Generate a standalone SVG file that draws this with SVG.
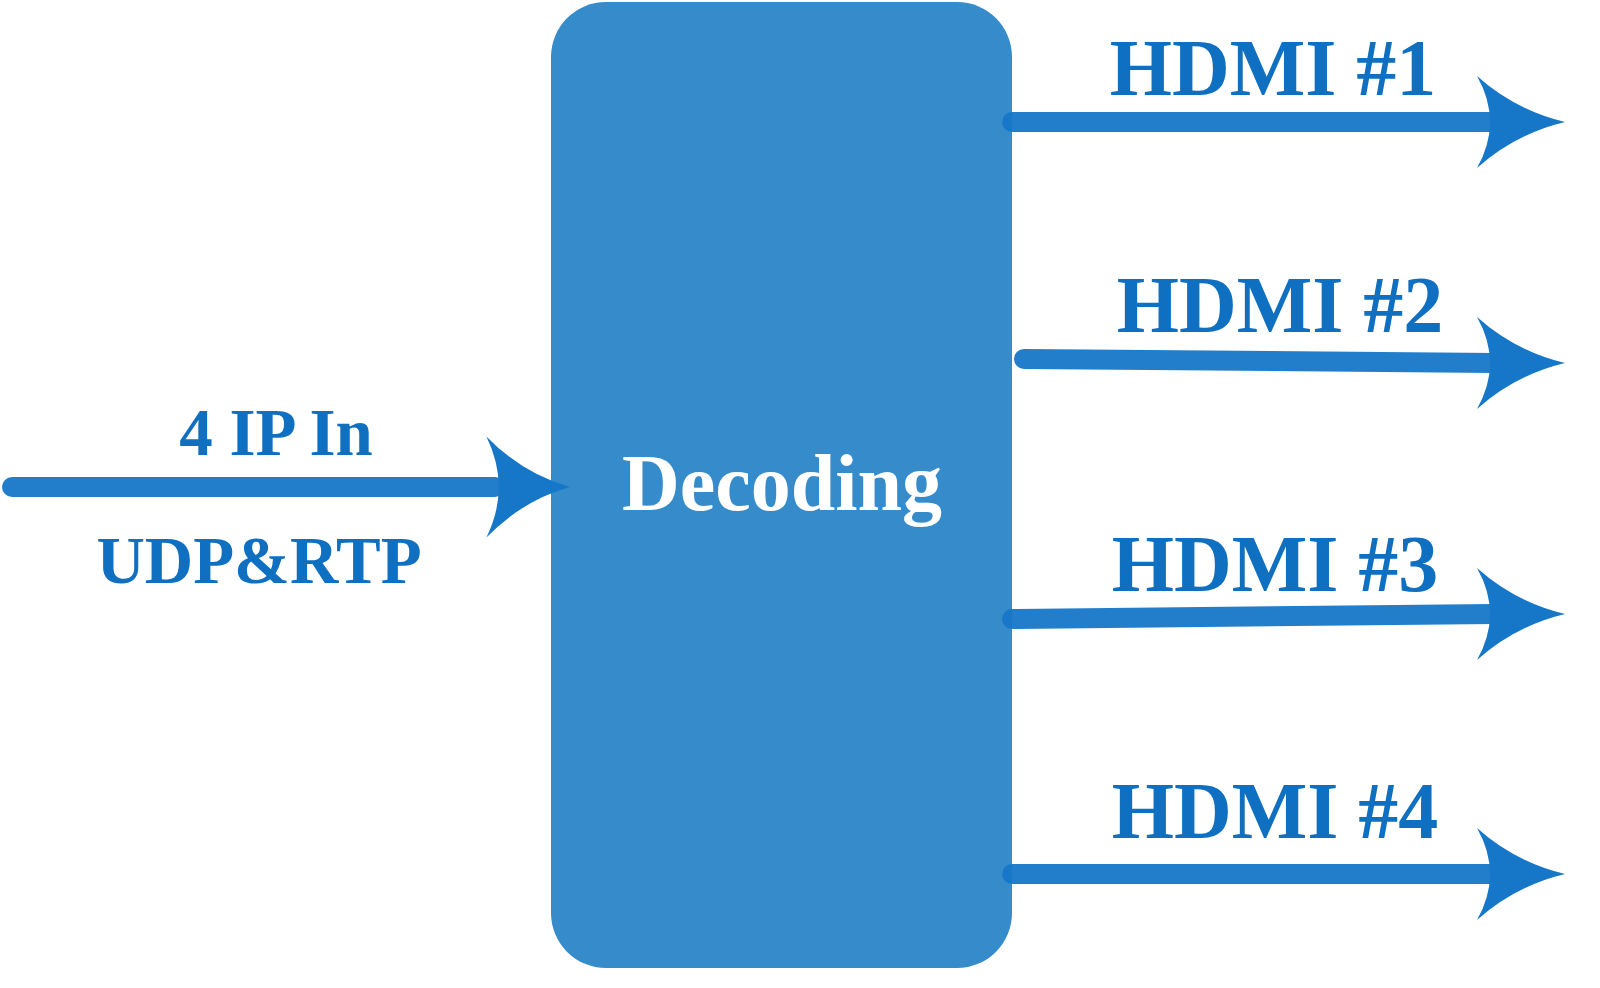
<svg xmlns="http://www.w3.org/2000/svg" width="1600" height="988" viewBox="0 0 1600 988">
<style>
.ln{stroke:#1677c8;stroke-width:20;stroke-linecap:round;fill:none;opacity:0.95}
.ah{fill:#1677c8}
.lbl{font-family:"Liberation Serif",serif;font-weight:bold;fill:#0f6fc0}
</style>
<defs>
<path id="head" d="M0,0 Q-50,-12 -88,-46 Q-62,0 -88,46 Q-50,12 0,0 Z"/>
</defs>
<g id="decoding">
<rect x="551" y="2" width="461" height="966" rx="55" fill="#368ccb"/>
<text x="782" y="510" text-anchor="middle" font-size="80" class="lbl" style="fill:#fff">Decoding</text>
</g>
<g id="connectors">
<line class="ln" x1="12" y1="487" x2="495" y2="487"/>
<use href="#head" class="ah" transform="translate(570,487) scale(0.95,1.1)"/>
<line class="ln" x1="1012" y1="122" x2="1495" y2="122"/>
<use href="#head" class="ah" transform="translate(1565,122)"/>
<line class="ln" x1="1024" y1="359" x2="1495" y2="363"/>
<use href="#head" class="ah" transform="translate(1565,363)"/>
<line class="ln" x1="1012" y1="619" x2="1495" y2="614"/>
<use href="#head" class="ah" transform="translate(1565,614)"/>
<line class="ln" x1="1012" y1="874" x2="1495" y2="874"/>
<use href="#head" class="ah" transform="translate(1565,874)"/>
</g>
<g id="labels">
<text x="276" y="455" text-anchor="middle" font-size="67" class="lbl">4 IP In</text>
<text x="259" y="583" text-anchor="middle" font-size="67" class="lbl">UDP&amp;RTP</text>
<text x="1273" y="95" text-anchor="middle" font-size="80" class="lbl">HDMI #1</text>
<text x="1280" y="332" text-anchor="middle" font-size="80" class="lbl">HDMI #2</text>
<text x="1275" y="591" text-anchor="middle" font-size="80" class="lbl">HDMI #3</text>
<text x="1275" y="838" text-anchor="middle" font-size="80" class="lbl">HDMI #4</text>
</g>
</svg>
